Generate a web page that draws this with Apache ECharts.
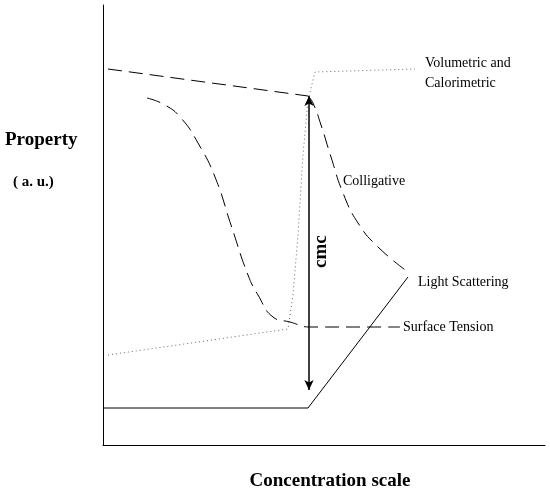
<!DOCTYPE html>
<html><head><meta charset="utf-8">
<script src="https://cdn.jsdelivr.net/npm/echarts@6/dist/echarts.min.js"></script>
<style>html,body{margin:0;background:#fff}#c{width:550px;height:491px}</style>
</head><body><div id="c"></div>
<script>
// coordinates: x = concentration scale units, y = property units (arbitrary)
const volumetricDashed = [[5,376],[205,349]];
const colligative = [[205,349],[210,342],[218,320],[228,288],[240,252],[255,222],[275,198],[305,173]];
const surfaceTension = [[44,347],[62,340],[78,327],[95,302],[112,268],[128,220],[145,170],[155,150],[170,128],[187,123],[207,118],[297,118]];
const dottedLine = [[5,90],[185,116],[190,150],[195,210],[200,290],[205,345],[212,373],[312,376]];
const lightScattering = [[0,37],[205,37],[305,168]];
const cmcArrow = [[206,349],[206,55]];
const ff = '"Liberation Serif","Times New Roman",serif';
const chart = echarts.init(document.getElementById('c'));
const base = {type:'line',symbol:'none',silent:true,lineStyle:{color:'#000',width:1}};
chart.setOption({
  animation:false,
  grid:{left:103,right:5,top:5,bottom:46,containLabel:false,outerBoundsMode:'none'},
  xAxis:{type:'value',min:0,max:442,axisLine:{lineStyle:{color:'#000'}},axisTick:{show:false},axisLabel:{show:false},splitLine:{show:false},
    name:'Concentration scale',nameLocation:'middle',nameGap:27,nameTextStyle:{fontFamily:ff,fontSize:19,fontWeight:'bold',color:'#000',padding:[0,0,0,12]}},
  yAxis:{type:'value',min:0,max:440,axisLine:{show:true,lineStyle:{color:'#000'}},axisTick:{show:false},axisLabel:{show:false},splitLine:{show:false}},
  graphic:[
    {type:'text',left:5,top:131,style:{text:'Property',font:'bold 19px '+ff,fill:'#000'}},
    {type:'text',left:13,top:175,style:{text:'( a. u.)',font:'bold 15px '+ff,fill:'#000'}},
    {type:'text',left:425,top:56,style:{text:'Volumetric and',font:'14px '+ff,fill:'#000'}},
    {type:'text',left:425,top:76,style:{text:'Calorimetric',font:'14px '+ff,fill:'#000'}},
    {type:'text',left:343,top:174,style:{text:'Colligative',font:'14px '+ff,fill:'#000'}},
    {type:'text',left:418,top:275,style:{text:'Light Scattering',font:'14px '+ff,fill:'#000'}},
    {type:'text',left:403,top:320,style:{text:'Surface Tension',font:'14px '+ff,fill:'#000'}},
    {type:'text',x:312,y:268,rotation:Math.PI/2,style:{text:'cmc',font:'bold 19px '+ff,fill:'#000'}}
  ],
  series:[
    Object.assign({},base,{data:volumetricDashed,lineStyle:{color:'#000',width:1,type:[14,7]}}),
    Object.assign({},base,{data:colligative,smooth:true,lineStyle:{color:'#000',width:1,type:[14,7]}}),
    Object.assign({},base,{data:surfaceTension,smooth:true,lineStyle:{color:'#000',width:1,type:[14,7]}}),
    Object.assign({},base,{data:dottedLine,lineStyle:{color:'#666',width:1,type:[1,3]}}),
    Object.assign({},base,{data:lightScattering}),
    Object.assign({},base,{data:[{value:cmcArrow[0],symbolRotate:0},{value:cmcArrow[1],symbolRotate:180}],
      symbol:'arrow',symbolSize:[7,10],showAllSymbol:true,itemStyle:{color:'#000'},lineStyle:{color:'#000',width:1.5}})
  ]
});
</script></body></html>
